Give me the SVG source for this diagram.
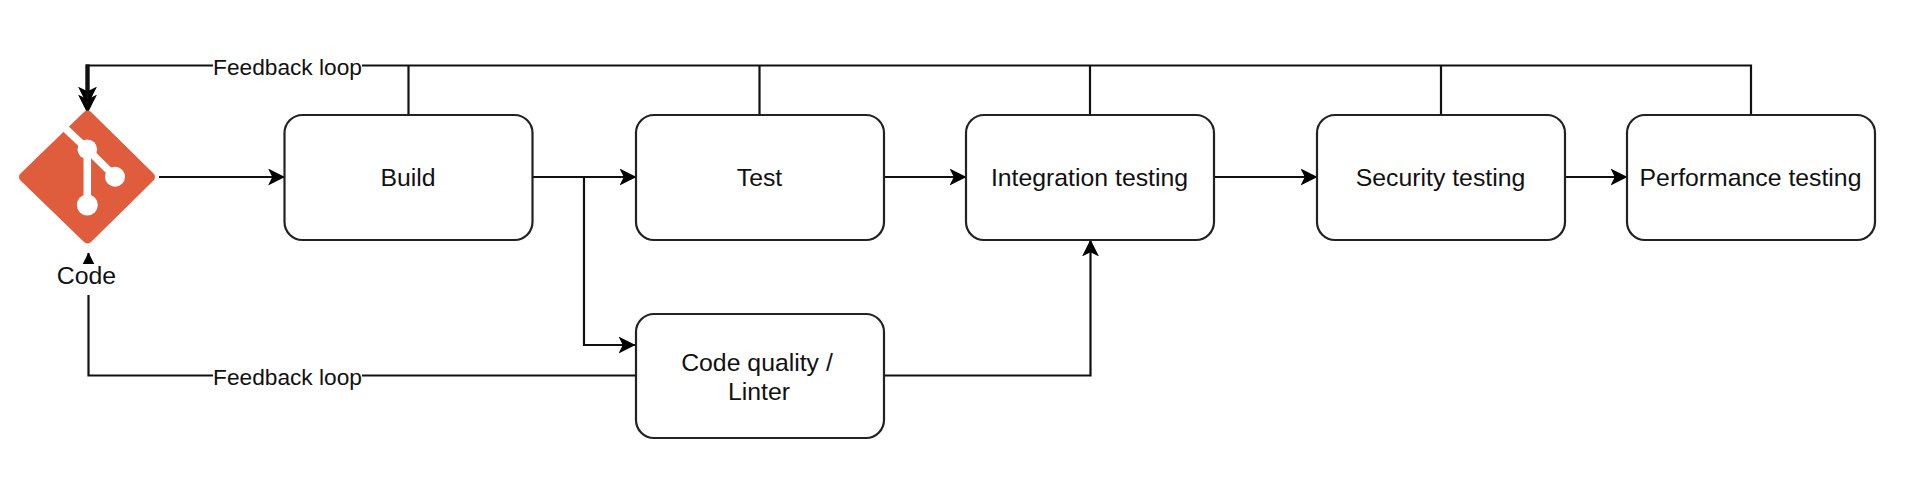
<svg xmlns="http://www.w3.org/2000/svg" width="1917" height="483" viewBox="0 0 1917 483">
<style>
.box{fill:#fff;stroke:#222;stroke-width:2.2}
.conn{fill:none;stroke:#111;stroke-width:2.2}
.arrow{marker-end:url(#head)}
.arrow-big{marker-end:url(#headbig)}
text{font-family:"Liberation Sans",Arial,Helvetica,sans-serif;fill:#111;text-anchor:middle}
.lbl{font-size:24.8px}
.edge{font-size:22.7px}
.bg{fill:#fff;stroke:none}
.git{fill:#df5c3d;stroke:#df5c3d;stroke-width:10;stroke-linejoin:round}
.gitw{fill:none;stroke:#fff;stroke-width:7.5}
.gitc{fill:#fff}
</style>
<defs>
<marker id="head" markerUnits="userSpaceOnUse" markerWidth="17" markerHeight="17" viewBox="0 0 16 16" refX="15.5" refY="8" orient="auto">
<path d="M0 0L16 8L0 16L4 8Z" fill="#000"/>
</marker>
<marker id="headbig" markerUnits="userSpaceOnUse" markerWidth="19" markerHeight="19" viewBox="0 0 16 16" refX="15.5" refY="8" orient="auto">
<path d="M0 0L16 8L0 16L4 8Z" fill="#000"/>
</marker>
</defs>
<rect width="1917" height="483" fill="#fff"/>
<g id="connectors">
<path class="conn" d="M1751 115V65.5H86"/>
<path class="conn" d="M408.5 115V65.5M759.5 115V65.5M1090 115V65.5M1441 115V65.5"/>
<path class="conn" style="stroke-width:4.4" d="M87.5 64.4V104"/>
<path class="conn arrow-big" d="M87.5 80V105"/>
<path class="conn arrow-big" d="M87.5 90V113"/>
<path class="conn arrow" d="M159 177H284.5"/>
<path class="conn arrow" d="M532.5 177H636"/>
<path class="conn arrow" d="M584 177V345H635"/>
<path class="conn arrow" d="M884 177H966"/>
<path class="conn arrow" d="M1214 177H1317"/>
<path class="conn arrow" d="M1565 177H1627"/>
<path class="conn arrow" d="M885 375.5H1090.5V240"/>
<path class="conn arrow" d="M635 375.5H88.5V253"/>
<g id="label-feedback-top">
<rect class="bg" x="213" y="54" width="149" height="24"/>
<text class="edge" x="287.5" y="74.5">Feedback loop</text>
</g>
<g id="label-feedback-bottom">
<rect class="bg" x="213" y="364" width="149" height="24"/>
<text class="edge" x="287.5" y="384.5">Feedback loop</text>
</g>
</g>
<g id="code">
<path class="git" d="M87.5 115.5L150 177L87.5 238.5L24 177Z"/>
<path class="gitw" d="M57 120.5L87.3 149.3L115 176.7M87.3 149.3V205"/>
<circle class="gitc" cx="87.3" cy="149.3" r="9.8"/>
<circle class="gitc" cx="115" cy="176.7" r="10"/>
<circle class="gitc" cx="87.3" cy="205" r="10.5"/>
<rect class="bg" x="50" y="264" width="76" height="31"/>
<text class="lbl" x="86.5" y="283.5">Code</text>
</g>
<g id="build">
<rect class="box" x="284.5" y="115" width="248" height="125" rx="18"/>
<text class="lbl" x="408" y="186">Build</text>
</g>
<g id="test">
<rect class="box" x="636" y="115" width="248" height="125" rx="18"/>
<text class="lbl" x="759.5" y="186">Test</text>
</g>
<g id="integration-testing">
<rect class="box" x="966" y="115" width="248" height="125" rx="18"/>
<text class="lbl" x="1089.5" y="186">Integration testing</text>
</g>
<g id="security-testing">
<rect class="box" x="1317" y="115" width="248" height="125" rx="18"/>
<text class="lbl" x="1440.5" y="186">Security testing</text>
</g>
<g id="performance-testing">
<rect class="box" x="1627" y="115" width="248" height="125" rx="18"/>
<text class="lbl" x="1750.5" y="186">Performance testing</text>
</g>
<g id="code-quality">
<rect class="box" x="636" y="314" width="248" height="124" rx="18"/>
<text class="lbl" x="757" y="370.5">Code quality /</text>
<text class="lbl" x="759" y="400">Linter</text>
</g>
</svg>
